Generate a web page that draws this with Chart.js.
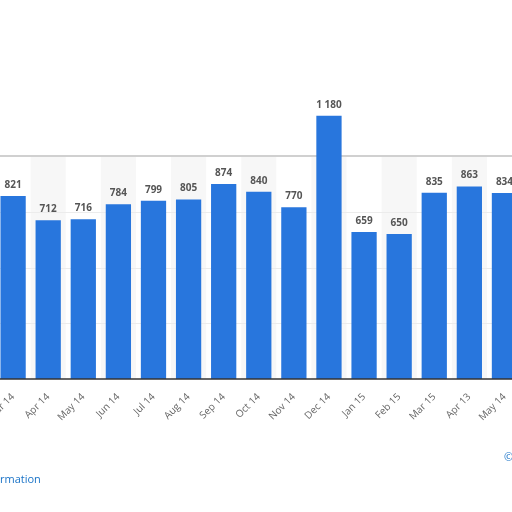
<!DOCTYPE html>
<html><head><meta charset="utf-8">
<script src="https://cdn.jsdelivr.net/npm/chart.js@4/dist/chart.umd.min.js"></script>
<style>html,body{margin:0;padding:0;background:#fff;overflow:hidden;width:512px;height:512px}
#wrap{position:absolute;left:-14px;top:0;width:536px;height:512px}
.t{position:absolute;font-family:"Open Sans",sans-serif;font-size:11px}</style>
</head><body>
<div id="wrap"><canvas id="c" width="536" height="512"></canvas></div>
<div class="t" style="left:0;top:471px;color:#1a73c7">rmation</div>
<div class="t" style="left:504px;top:449px;color:#1a73c7">©</div>
<script>
const categories=["Mar 14","Apr 14","May 14","Jun 14","Jul 14","Aug 14","Sep 14","Oct 14","Nov 14","Dec 14","Jan 15","Feb 15","Mar 15","Apr 13","May 14"];
const values=[821,712,716,784,799,805,874,840,770,1180,659,650,835,863,834];
const yTicks=[0,250,500,750,1000];
const bands={id:'bands',beforeDraw(ch){const {ctx,chartArea:a,scales:{x,y}}=ch;ctx.save();
 const w=(a.right-a.left)/categories.length;
 ctx.fillStyle='#f7f7f7';
 categories.forEach((c,i)=>{if(i%2===1)ctx.fillRect(a.left+i*w,a.top,w,a.bottom-a.top);});
 ctx.strokeStyle='#ececec';ctx.lineWidth=1;
 yTicks.slice(1,-1).forEach(v=>{const py=Math.round(y.getPixelForValue(v))+0.5;ctx.beginPath();ctx.moveTo(a.left,py);ctx.lineTo(a.right,py);ctx.stroke();});
 ctx.strokeStyle='#d0d0d0';ctx.lineWidth=2;ctx.beginPath();ctx.moveTo(a.left,a.top);ctx.lineTo(a.right,a.top);ctx.stroke();
 ctx.restore();},
 afterDatasetsDraw(ch){const {ctx,scales:{x,y},chartArea:a}=ch;ctx.save();
 ctx.fillStyle='#555';ctx.font='bold 10px "Open Sans",sans-serif';ctx.textAlign='center';ctx.textBaseline='bottom';
 values.forEach((v,i)=>{const s=v>=1000?String(v).replace(/(\d)(\d{3})$/,'$1 $2'):String(v);
  ctx.fillText(s,x.getPixelForValue(i),y.getPixelForValue(v)-6);});
 ctx.strokeStyle='#333';ctx.lineWidth=1.5;ctx.beginPath();ctx.moveTo(a.left,a.bottom);ctx.lineTo(a.right,a.bottom);ctx.stroke();
 ctx.restore();}};
new Chart(document.getElementById('c'),{type:'bar',
 data:{labels:categories,datasets:[{data:values,backgroundColor:'#2876dd',categoryPercentage:1,barPercentage:0.72}]},
 options:{responsive:false,animation:false,clip:false,
  layout:{padding:{top:156,bottom:0,left:0,right:0}},
  plugins:{legend:{display:false},tooltip:{enabled:false}},
  scales:{y:{display:false,min:0,max:1000,afterFit(s){s.width=0;}},
   x:{grid:{display:false},border:{display:false},
    ticks:{minRotation:45,maxRotation:45,color:'#666',font:{family:'"Open Sans",sans-serif',size:10},padding:4},
    afterFit(s){s.height=133;}}}},
 plugins:[bands]});
</script></body></html>
